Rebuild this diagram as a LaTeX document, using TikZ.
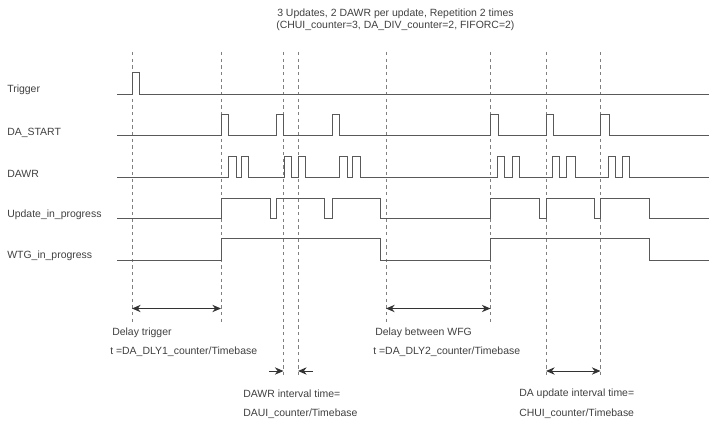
\documentclass[tikz,border=0pt]{standalone}
\usepackage{fontspec}
\setmainfont{Liberation Sans}
\usetikzlibrary{arrows.meta}
\tikzset{
  wave/.style={draw=black!65, line width=0.7pt, line join=miter},
  marker/.style={draw=black!50, line width=0.6pt, dash pattern=on 2.6pt off 2.4pt},
  span/.style={draw=black!80, line width=0.75pt, >={Stealth[length=6.5pt,width=5.5pt]}},
  lbl/.style={anchor=west, inner sep=0pt, text=black!75, font=\fontsize{7.85pt}{9pt}\selectfont}
}
\begin{document}
\begin{tikzpicture}[x=0.75pt,y=-0.75pt]
    \useasboundingbox (0,0) rectangle (709,422);
    % title
    \node (title1) [lbl] at (277,13.5) {3 Updates, 2 DAWR per update, Repetition 2 times};
    \node (title2) [lbl] at (276,26) {(CHUI\_counter=3, DA\_DIV\_counter=2, FIFORC=2)};
    % signal names
    \node (trigger) [lbl] at (7,90) {Trigger};
    \node (dastart) [lbl] at (7,133) {DA\_START};
    \node (dawr) [lbl] at (7,173.5) {DAWR};
    \node (update) [lbl] at (7,214.5) {Update\_in\_progress};
    \node (wtg) [lbl] at (7,256) {WTG\_in\_progress};
    % time markers
    \foreach \t/\e/\n in {132/322/a, 221/322/b, 283.5/378/c, 298/378/d, 386/322/e, 490.5/322/f, 546/378/g, 600.5/378/h} {
        \coordinate (top\n) at (\t,52);
        \coordinate (bot\n) at (\t,\e);
        \draw[marker] (top\n) -- (bot\n);
    }
    % waveforms
    \draw[wave] (117,94) -- (132,94) -- (132,72) -- (139,72) -- (139,94) -- (709,94);
    \draw[wave] (117,135) foreach \a/\b in {221/228.5, 276/283.5, 332/339, 490.5/498, 546/553, 600.5/609} {
        -- (\a,135) -- (\a,114) -- (\b,114) -- (\b,135)} -- (709,135);
    \draw[wave] (117,177) foreach \a/\b in {228/236, 241/248.5, 284/291, 298/305, 339/347, 352/360, 497/504, 512/519, 552/559, 566/575, 608/615, 622/629.5} {
        -- (\a,177) -- (\a,156) -- (\b,156) -- (\b,177)} -- (709,177);
    \draw[wave] (117,218) -- (221,218) -- (221,198) -- (270,198) -- (270,218) -- (276.5,218) -- (276.5,198)
        -- (324.5,198) -- (324.5,218) -- (332,218) -- (332,198) -- (380,198) -- (380,218) -- (490.5,218) -- (490.5,198)
        -- (539,198) -- (539,218) -- (546,218) -- (546,198) -- (594,198) -- (594,218) -- (600.5,218) -- (600.5,198)
        -- (649,198) -- (649,218) -- (709,218);
    \draw[wave] (117,260) -- (221,260) -- (221,238.5) -- (380,238.5) -- (380,260) -- (490.5,260) -- (490.5,238.5)
        -- (649,238.5) -- (649,260) -- (709,260);
    % intervals
    \coordinate (dly1a) at (132,308.5);
    \coordinate (dly1b) at (221,308.5);
    \coordinate (dly2a) at (386,308.5);
    \coordinate (dly2b) at (490.5,308.5);
    \coordinate (updta) at (546,371);
    \coordinate (updtb) at (600.5,371);
    \coordinate (wrl) at (269,371);
    \coordinate (wra) at (283.5,371);
    \coordinate (wrb) at (298,371);
    \coordinate (wrr) at (313,371);
    \draw[span,<->] (dly1a) -- (dly1b);
    \draw[span,<->] (dly2a) -- (dly2b);
    \draw[span,<->] (updta) -- (updtb);
    \draw[span,->] (wrl) -- (wra);
    \draw[span,->] (wrr) -- (wrb);
    % notes
    \node (delay1) [lbl] at (112,332.5) {Delay trigger};
    \node (time1) [lbl] at (110,352) {t =DA\_DLY1\_counter/Timebase};
    \node (delay2) [lbl] at (375,332.5) {Delay between WFG};
    \node (time2) [lbl] at (373,352) {t =DA\_DLY2\_counter/Timebase};
    \node (wrint) [lbl] at (243,394) {DAWR  interval time=};
    \node (wrval) [lbl] at (243,414) {DAUI\_counter/Timebase};
    \node (upint) [lbl] at (519,394) {DA update interval time=};
    \node (upval) [lbl] at (519,414) {CHUI\_counter/Timebase};
\end{tikzpicture}
\end{document}
